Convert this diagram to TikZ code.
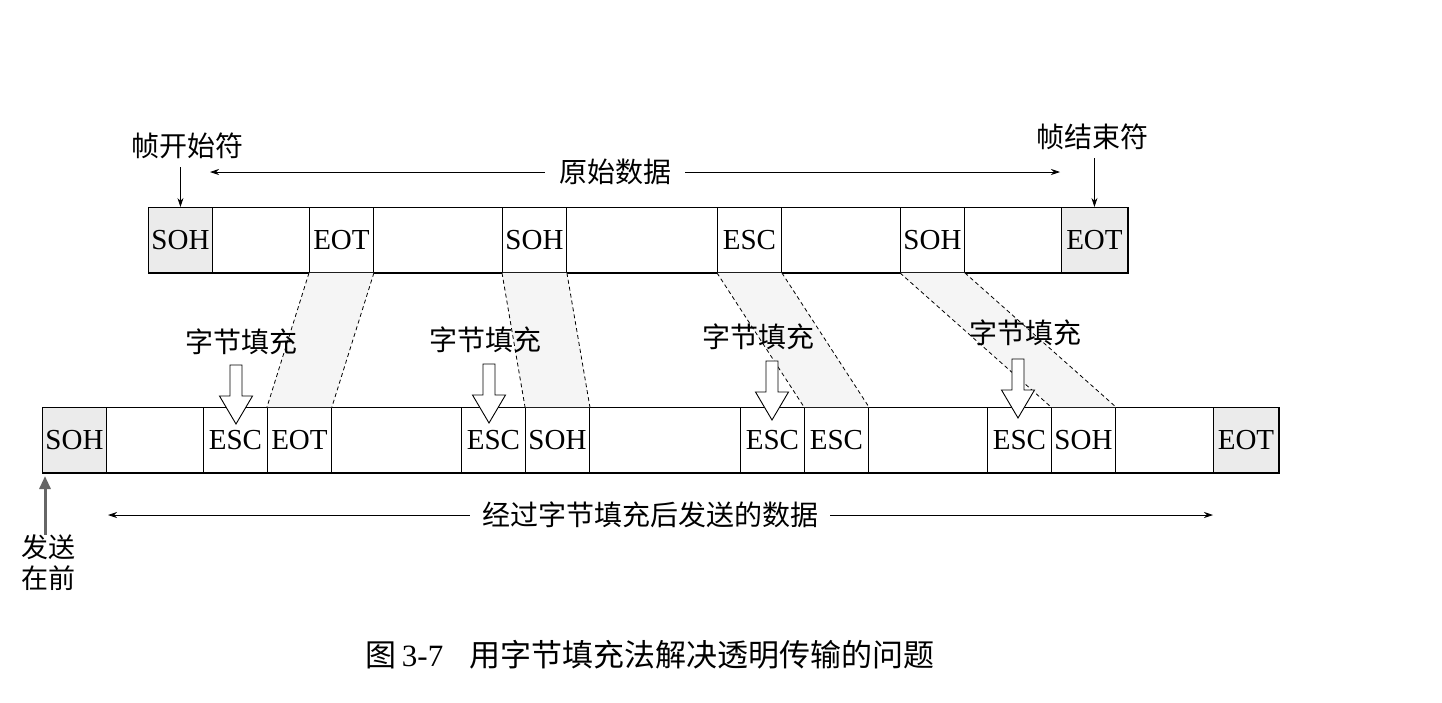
\documentclass[tikz,border=0pt]{standalone}
\usepackage{fontspec}
\setmainfont{Liberation Serif}
\newfontfamily\cjk{Noto Sans CJK SC}
\usetikzlibrary{arrows.meta,calc}
\begin{document}
\begin{tikzpicture}[x=1pt,y=-1pt,
  cell/.style={draw, line width=0.9pt, minimum height=65pt, inner sep=0pt, anchor=north west,
    font=\fontsize{29}{29}\selectfont},
  endcell/.style={cell, fill=black!8},
  lbl/.style={font=\fontsize{28}{30}\selectfont\cjk, inner sep=0pt},
  thinarrow/.style={line width=0.8pt, -{Stealth[length=9pt,width=6pt]}},
  stuff/.style={dash pattern=on 4pt off 3pt, line width=0.8pt},
  shade/.style={fill=black!4},
  hollow/.style={draw, line width=0.9pt, fill=white}
]
\useasboundingbox (0,0) rectangle (1442,702);

% ---------- top row ----------
\node[endcell, minimum width=64pt]  (t1)  at (148,207) {SOH};
\node[cell, minimum width=97pt]     (t2)  at (212,207) {};
\node[cell, minimum width=64pt]     (t3)  at (309,207) {EOT};
\node[cell, minimum width=129pt]    (t4)  at (373,207) {};
\node[cell, minimum width=64pt]     (t5)  at (502,207) {SOH};
\node[cell, minimum width=151pt]    (t6)  at (566,207) {};
\node[cell, minimum width=64pt]     (t7)  at (717,207) {ESC};
\node[cell, minimum width=119pt]    (t8)  at (781,207) {};
\node[cell, minimum width=64pt]     (t9)  at (900,207) {SOH};
\node[cell, minimum width=97pt]     (t10) at (964,207) {};
\node[endcell, minimum width=66pt]  (t11) at (1061,207) {EOT};
\draw[line width=2.6pt] (t1.south west) -- (t11.south east) -- (t11.north east);

% ---------- bottom row ----------
\node[endcell, minimum width=64pt]  (b1)  at (42,407) {SOH};
\node[cell, minimum width=97pt]     (b2)  at (106,407) {};
\node[cell, minimum width=64pt]     (b3)  at (203,407) {ESC};
\node[cell, minimum width=64pt]     (b4)  at (267,407) {EOT};
\node[cell, minimum width=130pt]    (b5)  at (331,407) {};
\node[cell, minimum width=64pt]     (b6)  at (461,407) {ESC};
\node[cell, minimum width=64pt]     (b7)  at (525,407) {SOH};
\node[cell, minimum width=151pt]    (b8)  at (589,407) {};
\node[cell, minimum width=64pt]     (b9)  at (740,407) {ESC};
\node[cell, minimum width=64pt]     (b10) at (804,407) {ESC};
\node[cell, minimum width=119pt]    (b11) at (868,407) {};
\node[cell, minimum width=64pt]     (b12) at (987,407) {ESC};
\node[cell, minimum width=64pt]     (b13) at (1051,407) {SOH};
\node[cell, minimum width=98pt]     (b14) at (1115,407) {};
\node[endcell, minimum width=65pt]  (b15) at (1213,407) {EOT};
\draw[line width=2.6pt] (b1.south west) -- (b15.south east) -- (b15.north east);

% ---------- dashed mapping of stuffed bytes ----------
\foreach \a/\b in {t3/b4, t5/b7, t7/b10, t9/b13}{
  \fill[shade] (\a.south west) -- (\a.south east) -- (\b.north east) -- (\b.north west) -- cycle;
  \draw[stuff] (\a.south west) -- (\b.north west);
  \draw[stuff] (\a.south east) -- (\b.north east);
}

% ---------- byte stuffing labels and hollow arrows ----------
\node[lbl] (s1) at (241,342) {字节填充};
\node[lbl] (s2) at (485,340) {字节填充};
\node[lbl] (s3) at (758,337) {字节填充};
\node[lbl] (s4) at (1025,333) {字节填充};
\coordinate (a1) at (236,365);
\coordinate (a2) at (489,364);
\coordinate (a3) at (772,361);
\coordinate (a4) at (1018,359);
\foreach \c in {a1,a2,a3,a4}{
  \draw[hollow] (\c) ++(-6,0) -- ++(0,31) -- ++(-10.5,0) -- ++(16.5,28) -- ++(16.5,-28) -- ++(-10.5,0) -- ++(0,-31) -- cycle;
}

% ---------- top annotations ----------
\node[lbl] (start) at (187,146) {帧开始符};
\draw[thinarrow] (t1.north |- start.south) ++(0,8) -- (t1.north);
\node[lbl] (endl) at (1092,137) {帧结束符};
\draw[thinarrow] (t11.north |- endl.south) ++(0,8) -- (t11.north);
\node[lbl, inner xsep=14pt] (orig) at (615,172) {原始数据};
\coordinate (oL) at (210,172);
\coordinate (oR) at (1060,172);
\draw[thinarrow] (orig.west) -- (oL);
\draw[thinarrow] (orig.east) -- (oR);

% ---------- bottom annotations ----------
\node[lbl, inner xsep=12pt] (sent) at (650,515) {经过字节填充后发送的数据};
\coordinate (sL) at (108,515);
\coordinate (sR) at (1213,515);
\draw[thinarrow] (sent.west) -- (sL);
\draw[thinarrow] (sent.east) -- (sR);

\node[lbl, align=left, font=\fontsize{27}{31}\selectfont\cjk] (first) at (48,563) {发送\\在前};
\coordinate (firstTip) at (45,476);
\draw[line width=3pt, black!60, -{Triangle[length=13pt,width=11pt]}] (firstTip |- first.north) -- (firstTip);

% ---------- caption ----------
\node[inner sep=0pt, font=\fontsize{31}{31}\selectfont] (cap) at (650,655)
  {{\cjk 图}\,3-7\hspace{26pt}{\cjk 用字节填充法解决透明传输的问题}};
\end{tikzpicture}
\end{document}
